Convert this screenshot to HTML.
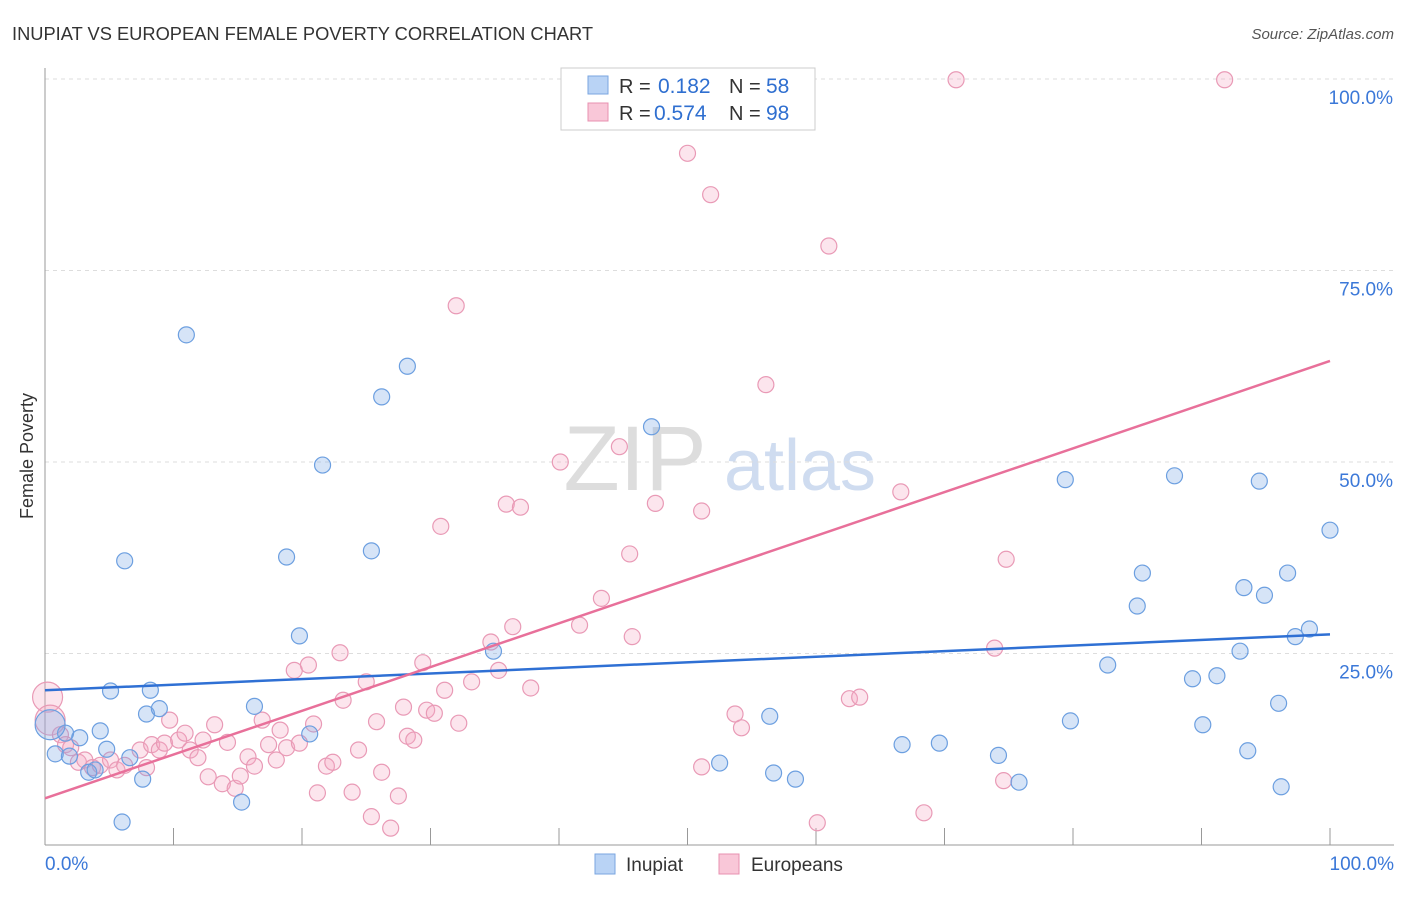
<!DOCTYPE html>
<html><head><meta charset="utf-8"><style>
body{margin:0;background:#fff;font-family:"Liberation Sans",sans-serif}
svg text{font-family:"Liberation Sans",sans-serif}
</style></head><body>
<svg id="chart" width="1406" height="892" xmlns="http://www.w3.org/2000/svg">
<text x="12" y="40" font-size="18.3" fill="#333">INUPIAT VS EUROPEAN FEMALE POVERTY CORRELATION CHART</text>
<text x="1394" y="39" font-size="15" fill="#555" font-style="italic" text-anchor="end">Source: ZipAtlas.com</text>
<text x="33" y="456" font-size="18" fill="#333" transform="rotate(-90 33 456)" text-anchor="middle">Female Poverty</text>
<g><text x="635" y="490" font-size="92" fill="#ddd" font-family="Liberation Serif" text-anchor="middle">ZIP</text><text x="800" y="490" font-size="72" fill="#cfdcf0" text-anchor="middle">atlas</text></g>
<g id="grid"></g><g id="axes"></g><g id="marks"></g>
<g>
<rect x="561" y="68" width="254" height="62" fill="#fff" stroke="#ccc"/>
<rect x="588" y="76" width="20" height="18" fill="#b9d3f5" stroke="#7aa6e0"/>
<rect x="588" y="103" width="20" height="18" fill="#f9c7d8" stroke="#e890b0"/>
<text x="619" y="93" font-size="20" fill="#333">R =</text><text x="658" y="93" font-size="21" fill="#2f6fd0">0.182</text>
<text x="729" y="93" font-size="20" fill="#333">N =</text><text x="766" y="93" font-size="21" fill="#2f6fd0">58</text>
<text x="619" y="120" font-size="20" fill="#333">R =</text><text x="654" y="120" font-size="21" fill="#2f6fd0">0.574</text>
<text x="729" y="120" font-size="20" fill="#333">N =</text><text x="766" y="120" font-size="21" fill="#2f6fd0">98</text>
</g>
<g>
<rect x="595" y="854" width="20" height="20" fill="#b9d3f5" stroke="#7aa6e0"/>
<text x="626" y="871" font-size="19" fill="#333">Inupiat</text>
<rect x="719" y="854" width="20" height="20" fill="#f9c7d8" stroke="#e890b0"/>
<text x="751" y="871" font-size="19" fill="#333">Europeans</text>
</g>
</svg>
<script>
const yTicks=[25,50,75,100];
const yTickLabels=["25.0%","50.0%","75.0%","100.0%"];
const xTickLabels=["0.0%","100.0%"];
const blueX=[0.8,1.6,1.9,2.7,3.4,3.9,4.3,4.8,5.1,6.2,6.0,6.6,7.6,7.9,8.2,8.9,11.0,15.3,16.3,18.8,19.8,20.6,21.6,25.4,26.2,28.2,34.9,47.2,52.5,56.4,56.7,58.4,66.7,69.6,74.2,75.8,79.4,79.8,82.7,85.0,85.4,87.9,89.3,90.1,91.2,93.0,93.3,93.6,94.5,94.9,96.0,96.2,96.7,97.3,98.4,100,0.4];
const blueY=[11.9,14.6,11.6,14.0,9.5,9.8,14.9,12.5,20.1,37.1,3.0,11.4,8.6,17.1,20.2,17.8,66.6,5.6,18.1,37.6,27.3,14.5,49.6,38.4,58.5,62.5,25.3,54.6,10.7,16.8,9.4,8.6,13.1,13.3,11.7,8.2,47.7,16.2,23.5,31.2,35.5,48.2,21.7,15.7,22.1,25.3,33.6,12.3,47.5,32.6,18.5,7.6,35.5,27.2,28.2,41.1,15.7];
const pinkX=[0.2,0.4,1.2,1.6,2.0,2.6,3.1,3.7,4.3,5.1,5.6,6.2,7.4,7.9,8.3,8.9,9.3,9.7,10.4,10.9,11.3,11.9,12.3,12.7,13.2,13.8,14.2,14.8,15.2,15.8,16.3,16.9,17.4,18.0,18.3,18.8,19.4,19.8,20.5,20.9,21.2,21.9,22.4,22.96,23.2,23.9,24.4,25.0,25.4,25.8,26.2,26.9,27.5,27.9,28.2,28.7,29.4,29.7,30.3,30.8,31.1,32.0,32.2,33.2,34.7,35.3,35.9,36.4,37.0,37.8,40.1,41.6,43.3,44.7,45.5,45.7,47.5,50.0,51.1,51.1,51.8,53.7,54.2,56.1,60.1,61.0,62.6,63.4,66.6,68.4,70.9,73.9,74.6,74.8,91.8];
const pinkY=[19.3,16.3,14.4,13.1,12.7,10.8,11.1,10.1,10.4,11.1,9.8,10.4,12.4,10.1,13.1,12.4,13.3,16.3,13.7,14.6,12.4,11.4,13.7,8.9,15.7,8.0,13.4,7.4,9.0,11.5,10.3,16.3,13.1,11.1,15.0,12.7,22.8,13.3,23.5,15.8,6.8,10.3,10.8,25.1,18.9,6.9,12.4,21.3,3.7,16.1,9.5,2.2,6.4,18.0,14.2,13.7,23.8,17.6,17.2,41.6,20.2,70.4,15.9,21.3,26.5,22.8,44.5,28.5,44.1,20.5,50.0,28.7,32.2,52.0,38.0,27.2,44.6,90.3,10.2,43.6,84.9,17.1,15.3,60.1,2.9,78.2,19.1,19.3,46.1,4.2,99.9,25.7,8.4,37.3,99.9];
const bigBlue=[56], bigPink=[0,1];
const blueLine=[20.2,27.5], pinkLine=[6.1,63.2];
const X=v=>45+v*12.85, Y=v=>845-v*7.66;
const NS="http://www.w3.org/2000/svg";
function mk(t,a,p){const e=document.createElementNS(NS,t);for(const k in a)e.setAttribute(k,a[k]);p.appendChild(e);return e;}
const grid=document.getElementById('grid'),axes=document.getElementById('axes'),marks=document.getElementById('marks');
yTicks.forEach((t,i)=>{
 const l=mk('line',{x1:45,x2:1394,y1:Y(t),y2:Y(t),stroke:'#ddd','stroke-dasharray':'4,4'},grid);
 
 
 const tx=mk('text',{x:1393,y:Y(t)+25,'font-size':19,fill:'#3b78d8','text-anchor':'end'},axes);
 tx.textContent=yTickLabels[i];
 
 
});
let a=mk('line',{x1:45,x2:45,y1:68,y2:845,stroke:'#999'},axes);


a=mk('line',{x1:45,x2:1394,y1:845,y2:845,stroke:'#999'},axes);


for(let i=0;i<=10;i++){const t=mk('line',{x1:X(i*10),x2:X(i*10),y1:828,y2:845,stroke:'#999'},axes);
 
 }
[[0,'start',45],[100,'end',1394]].forEach((d,i)=>{const t=mk('text',{x:d[2],y:870,'font-size':19,fill:'#3b78d8','text-anchor':d[1]},axes);t.textContent=xTickLabels[i];
 
 });
function pts(xs,ys,big,fill,stroke,name){xs.forEach((x,i)=>{const c=mk('circle',{cx:X(x),cy:Y(ys[i]),r:big.includes(i)?15:8,fill:fill,stroke:stroke,'stroke-width':1.2},marks);
 
 });}
pts(pinkX,pinkY,bigPink,'rgba(246,170,196,0.3)','#e99ab6','european-point');
pts(blueX,blueY,bigBlue,'rgba(120,165,230,0.3)','#6c9fe0','inupiat-point');
let tl=mk('line',{x1:X(0),y1:Y(blueLine[0]),x2:X(100),y2:Y(blueLine[1]),stroke:'#2f70d4','stroke-width':2.5},marks);


tl=mk('line',{x1:X(0),y1:Y(pinkLine[0]),x2:X(100),y2:Y(pinkLine[1]),stroke:'#e8709a','stroke-width':2.5},marks);


</script>
</body></html>
